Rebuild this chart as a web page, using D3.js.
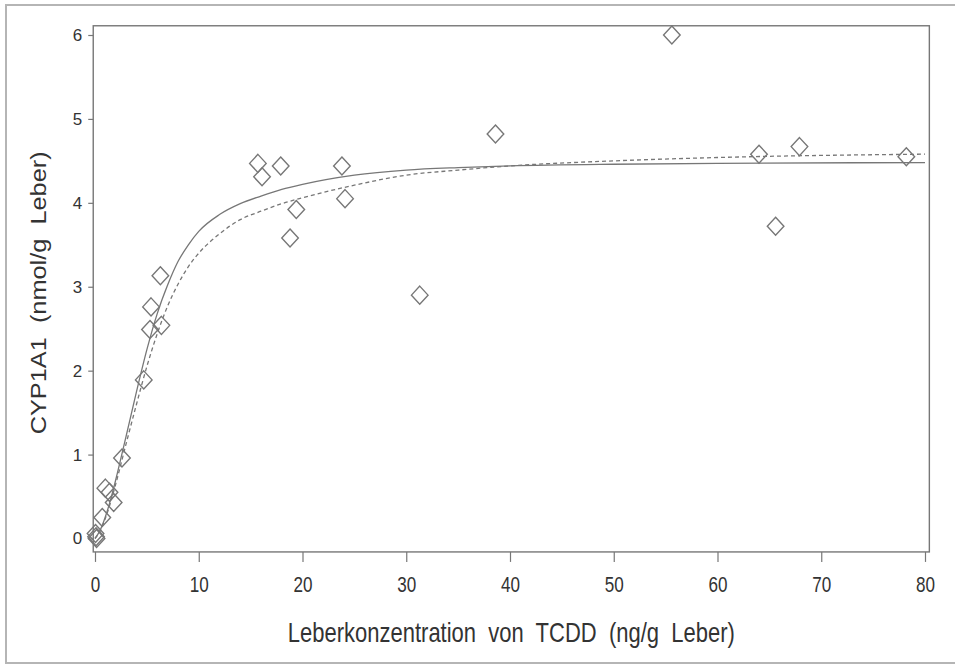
<!DOCTYPE html>
<html lang="de">
<head>
    <meta charset="UTF-8">
    <title>CYP1A1 vs. TCDD</title>
    <script src="https://d3js.org/d3.v7.min.js"></script>
    <style>
        body { margin: 0; background: #fff; }
        svg { display: block; font-family: "Liberation Sans", Arial, Helvetica, sans-serif; }
        .title { white-space: pre; }
    </style>
</head>
<body>
    <div id="chart"></div>

    <script>
        // Messwerte (TCDD in ng/g Leber, CYP1A1 in nmol/g Leber)
        const tcdd = [0.05, 0.1, 0.15, 0.7, 1.0, 1.4, 1.8, 2.6, 4.7, 5.3, 5.4, 6.3, 6.4,
                      15.7, 16.1, 17.9, 18.8, 19.4, 23.8, 24.1, 31.3, 38.6, 55.6, 64.0, 65.6, 67.9, 78.2];
        const cyp = [0.06, 0.02, 0.0, 0.25, 0.60, 0.55, 0.43, 0.96, 1.89, 2.49, 2.76, 3.13, 2.54,
                     4.47, 4.31, 4.44, 3.58, 3.92, 4.44, 4.05, 2.90, 4.82, 6.00, 4.58, 3.72, 4.67, 4.55];

        // Angepasste Kurven
        const fitX = [0, 0.5, 1, 1.5, 2, 3, 4, 5, 6, 7, 8, 9, 10, 12, 14, 16, 18, 20, 25, 30, 35, 40, 50, 60, 80];
        const fitSolid = [0, 0.1, 0.26, 0.46, 0.7, 1.22, 1.75, 2.25, 2.68, 3.02, 3.3, 3.5, 3.66,
                          3.86, 3.99, 4.08, 4.16, 4.22, 4.33, 4.39, 4.42, 4.44, 4.46, 4.47, 4.48];
        const fitDashed = [0, 0.09, 0.24, 0.43, 0.65, 1.13, 1.6, 2.05, 2.44, 2.77, 3.03, 3.24, 3.4,
                           3.63, 3.8, 3.9, 3.99, 4.06, 4.21, 4.33, 4.39, 4.44, 4.5, 4.54, 4.58];

        const xTicks = [0, 10, 20, 30, 40, 50, 60, 70, 80];
        const yTicks = [0, 1, 2, 3, 4, 5, 6];

        const width = 955, height = 666;
        const lineColor = "#777";
        const textColor = "#333";

        const svg = d3.select("#chart").append("svg")
            .attr("width", width)
            .attr("height", height);

        const x = d3.scaleLinear().domain([0, 80]).range([95, 925]);
        const y = d3.scaleLinear().domain([0, 6]).range([538.5, 35]);

        // Rahmen um die ganze Abbildung
        svg.append("rect")
            .attr("x", 6).attr("y", 5)
            .attr("width", 970).attr("height", 658)
            .attr("fill", "none")
            .attr("stroke", "#b5b5b5")
            .attr("stroke-width", 2);

        // Plotbereich
        const boxL = x(-0.17), boxR = x(80.42), boxT = y(6.11), boxB = y(-0.16);
        svg.append("rect")
            .attr("x", boxL).attr("y", boxT)
            .attr("width", boxR - boxL).attr("height", boxB - boxT)
            .attr("fill", "none")
            .attr("stroke", lineColor)
            .attr("stroke-width", 1.4);

        // x-Achse
        const xAxis = svg.append("g")
            .attr("transform", `translate(0,${boxB})`)
            .call(d3.axisBottom(x).tickValues(xTicks).tickSize(10).tickSizeOuter(0));
        xAxis.select(".domain").remove();
        xAxis.selectAll(".tick line").attr("stroke", lineColor).attr("stroke-width", 1.2);
        xAxis.selectAll(".tick text")
            .attr("y", 40)
            .attr("dy", 0)
            .attr("fill", textColor)
            .attr("font-size", 22)
            .attr("textLength", d => String(d).length * 9.5)
            .attr("lengthAdjust", "spacingAndGlyphs");

        // y-Achse
        const yAxis = svg.append("g")
            .attr("transform", `translate(${boxL},0)`)
            .call(d3.axisLeft(y).tickValues(yTicks).tickFormat(d3.format("d"))
                .tickSize(5).tickPadding(6).tickSizeOuter(0));
        yAxis.select(".domain").remove();
        yAxis.selectAll(".tick line").attr("stroke", lineColor).attr("stroke-width", 1.2);
        yAxis.selectAll(".tick text")
            .attr("fill", textColor)
            .attr("font-size", 17);

        // Achsentitel
        svg.append("text")
            .attr("class", "title")
            .attr("x", (boxL + boxR) / 2)
            .attr("y", 642)
            .attr("text-anchor", "middle")
            .attr("fill", textColor)
            .attr("font-size", 28)
            .attr("textLength", 447)
            .attr("lengthAdjust", "spacingAndGlyphs")
            .text("Leberkonzentration  von  TCDD  (ng/g  Leber)");

        svg.append("text")
            .attr("class", "title")
            .attr("transform", `translate(46,${(boxT + boxB) / 2 + 4}) rotate(-90)`)
            .attr("text-anchor", "middle")
            .attr("fill", textColor)
            .attr("font-size", 22)
            .attr("textLength", 283)
            .attr("lengthAdjust", "spacingAndGlyphs")
            .text("CYP1A1  (nmol/g  Leber)");

        // Kurven
        const line = d3.line()
            .x(d => x(d[0]))
            .y(d => y(d[1]))
            .curve(d3.curveMonotoneX);

        svg.append("path")
            .datum(fitX.map((v, i) => [v, fitSolid[i]]))
            .attr("d", line)
            .attr("fill", "none")
            .attr("stroke", lineColor)
            .attr("stroke-width", 1.3);

        svg.append("path")
            .datum(fitX.map((v, i) => [v, fitDashed[i]]))
            .attr("d", line)
            .attr("fill", "none")
            .attr("stroke", lineColor)
            .attr("stroke-width", 1.3)
            .attr("stroke-dasharray", "4,3");

        // Messpunkte als Rauten
        const hw = 8.3, hh = 9;
        svg.append("g")
            .selectAll("path")
            .data(tcdd.map((v, i) => [v, cyp[i]]))
            .join("path")
            .attr("transform", d => `translate(${x(d[0])},${y(d[1])})`)
            .attr("d", `M0,${-hh}L${hw},0L0,${hh}L${-hw},0Z`)
            .attr("fill", "none")
            .attr("stroke", lineColor)
            .attr("stroke-width", 1.4);
    </script>
</body>
</html>
